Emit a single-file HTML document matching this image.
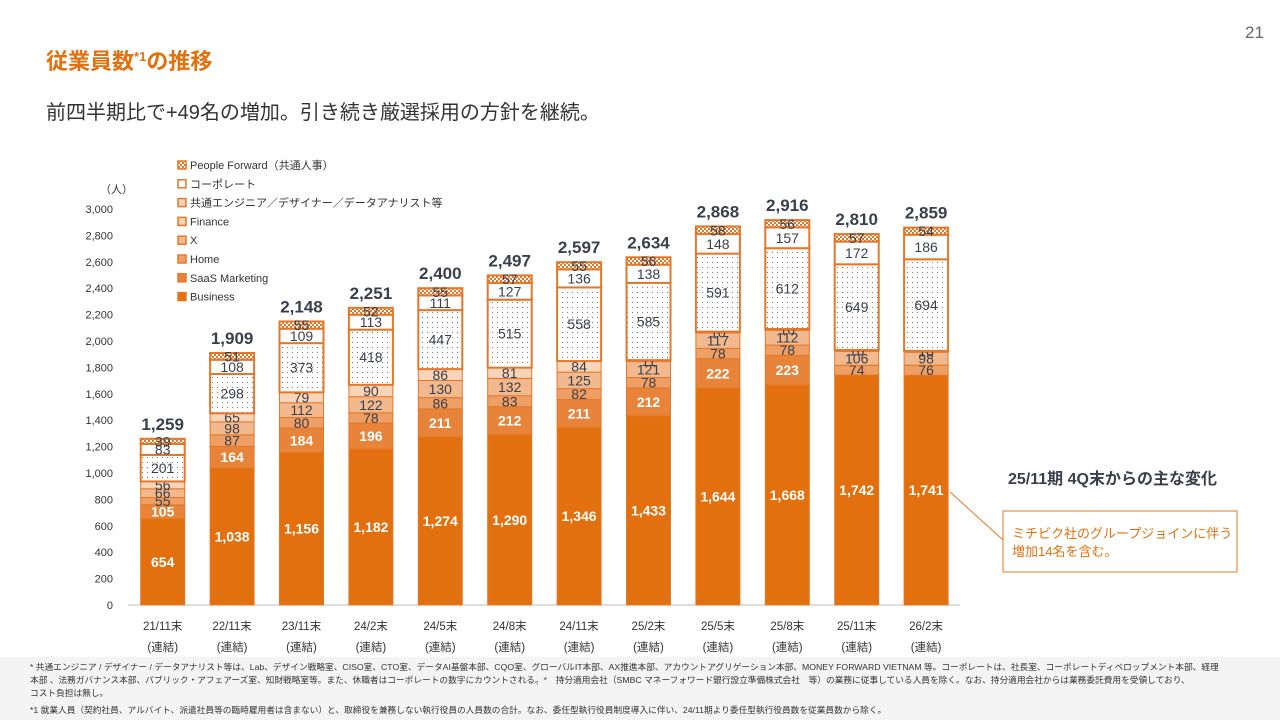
<!DOCTYPE html>
<html><head><meta charset="utf-8">
<style>
body{margin:0;width:1280px;height:720px;background:#fff;font-family:"Liberation Sans","Noto Sans CJK JP",sans-serif;overflow:hidden;position:relative}
svg{position:absolute;left:0;top:0}
</style></head>
<body>
<svg width="1280" height="720" font-family="'Liberation Sans','Noto Sans CJK JP',sans-serif">
<defs>
<pattern id="dots" width="5" height="5" patternUnits="userSpaceOnUse"><rect width="5" height="5" fill="#fff"/><circle cx="2.5" cy="2.5" r="0.6" fill="#777"/></pattern>
<pattern id="hatch" width="4" height="4" patternUnits="userSpaceOnUse"><rect width="4" height="4" fill="#fff"/><rect width="2" height="2" fill="#E3782A"/><rect x="2" y="2" width="2" height="2" fill="#E3782A"/></pattern>
</defs>
<rect x="0" y="657" width="1280" height="63" fill="#f4f4f4"/>
<text x="1245" y="38" font-size="17" fill="#666">21</text>
<text x="46" y="69" font-size="22" font-weight="bold" fill="#E3700F">従業員数<tspan font-size="13" dy="-8">*1</tspan><tspan dy="8">の推移</tspan></text>
<text x="46" y="119" font-size="20" fill="#333">前四半期比で+49名の増加。引き続き厳選採用の方針を継続。</text>
<g id="chart"></g>
<text x="1008" y="484" font-size="16" font-weight="bold" fill="#3a3f4a">25/11期 4Q末からの主な変化</text>
<line x1="950" y1="492" x2="1003" y2="540" stroke="#E3782A" stroke-width="1"/>
<rect x="1003" y="511" width="234" height="61" fill="#fff" stroke="#E3782A"/>
<text x="1012" y="538" font-size="13" fill="#E3700F">ミチビク社のグループジョインに伴う</text>
<text x="1012" y="556" font-size="13" fill="#E3700F">増加14名を含む。</text>
<g font-size="8.7" fill="#333">
<text x="30" y="670">* 共通エンジニア / デザイナー / データアナリスト等は、Lab、デザイン戦略室、CISO室、CTO室、データAI基盤本部、CQO室、グローバルIT本部、AX推進本部、アカウントアグリゲーション本部、MONEY FORWARD VIETNAM 等。コーポレートは、社長室、コーポレートディベロップメント本部、経理</text>
<text x="30" y="683">本部 、法務ガバナンス本部、パブリック・アフェアーズ室、知財戦略室等。また、休職者はコーポレートの数字にカウントされる。*　持分適用会社（SMBC マネーフォワード銀行設立準備株式会社　等）の業務に従事している人員を除く。なお、持分適用会社からは業務委託費用を受領しており、</text>
<text x="30" y="696">コスト負担は無し。</text>
<text x="30" y="713">*1 就業人員（契約社員、アルバイト、派遣社員等の臨時雇用者は含まない）と、取締役を兼務しない執行役員の人員数の合計。なお、委任型執行役員制度導入に伴い、24/11期より委任型執行役員数を従業員数から除く。</text>
</g>
</svg>
<script>
const categories=["21/11末","22/11末","23/11末","24/2末","24/5末","24/8末","24/11末","25/2末","25/5末","25/8末","25/11末","26/2末"];
const business=[654,1038,1156,1182,1274,1290,1346,1433,1644,1668,1742,1741];
const saas=[105,164,184,196,211,212,211,212,222,223,0,0];
const home=[55,87,80,78,86,83,82,78,78,78,74,76];
const xseg=[66,98,112,122,130,132,125,121,117,112,106,98];
const finance=[56,65,79,90,86,81,84,11,10,10,10,10];
const engineer=[201,298,373,418,447,515,558,585,591,612,649,694];
const corporate=[83,108,109,113,111,127,136,138,148,157,172,186];
const peopleForward=[39,51,55,52,55,57,55,56,58,56,57,54];
const totals=[1259,1909,2148,2251,2400,2497,2597,2634,2868,2916,2810,2859];
const yTicks=[0,200,400,600,800,1000,1200,1400,1600,1800,2000,2200,2400,2600,2800,3000];
const seriesNames=["Business","SaaS Marketing","Home","X","Finance","共通エンジニア／デザイナー／データアナリスト等","コーポレート","People Forward（共通人事）"];

const NS="http://www.w3.org/2000/svg";
const g=document.getElementById('chart');
const y0=605,y1=209,vmax=3000;
const yScale=v=>y0-(v/vmax)*(y0-y1);
const x0=128,step=69.4;
const xCenter=i=>x0+step*(i+0.5);
const barW=44;
function mk(tag,attrs,parent){const e=document.createElementNS(NS,tag);for(const k in attrs)e.setAttribute(k,attrs[k]);(parent||g).appendChild(e);return e;}
const series=[business,saas,home,xseg,finance,engineer,corporate,peopleForward];
const fills=["#E3700F","#E8843A","#EE9F66","#F3B98E","#F8D4B8","url(#dots)","#fff","url(#hatch)"];
const keys=["business","saas-marketing","home","x","finance","engineer","corporate","people-forward"];
const ax=mk('line',{x1:x0,y1:y0,x2:960,y2:y0,stroke:'#bbb'});


const yt=mk('text',{x:100,y:193,'font-size':11,fill:'#333'});yt.textContent='（人）';


yTicks.forEach(t=>{const e=mk('text',{x:113,y:yScale(t)+4,'font-size':11,fill:'#333','text-anchor':'end'});e.textContent=t.toLocaleString('en-US');

});
categories.forEach((c,i)=>{
 const cx=xCenter(i);
 let cum=0;
 series.forEach((s,k)=>{
  const v=s[i]; if(!v){return;}
  const yt=yScale(cum+v),yb=yScale(cum);cum+=v;
  const r=mk('rect',{x:cx-barW/2,y:yt,width:barW,height:yb-yt,fill:fills[k],stroke:'#E3782A','stroke-width':k>=5?2:1});
  
  
  const lbl=mk('text',{x:cx,y:(yt+yb)/2+5,'font-size':14,'font-weight':k<2?'bold':'normal',fill:k<2?'#fff':'#3a3f4a','text-anchor':'middle'});
  lbl.textContent=v.toLocaleString('en-US');
  
  
 });
 const tl=mk('text',{x:cx,y:yScale(totals[i])-9,'font-size':17,'font-weight':'bold',fill:'#3a3f4a','text-anchor':'middle'});
 tl.textContent=totals[i].toLocaleString('en-US');
 
 
 const xl=mk('text',{x:cx,y:630,'font-size':11.5,fill:'#333','text-anchor':'middle'});xl.textContent=c;
 
 
 const xl2=mk('text',{x:cx,y:651,'font-size':11.5,fill:'#333','text-anchor':'middle'});xl2.textContent='(連結)';
 
 
});
for(let k=7;k>=0;k--){
 const row=7-k,ly=165+row*18.8;
 const sw=mk('rect',{x:178,y:ly-4,width:8,height:8,fill:k===6?'#fff':(k===5?'#F8D4B8':fills[k]),stroke:'#E3782A','stroke-width':1.5});
 
 
 const t=mk('text',{x:190,y:ly+4,'font-size':11,fill:'#333'});t.textContent=seriesNames[k];
 
 
}
</script>
</body></html>
